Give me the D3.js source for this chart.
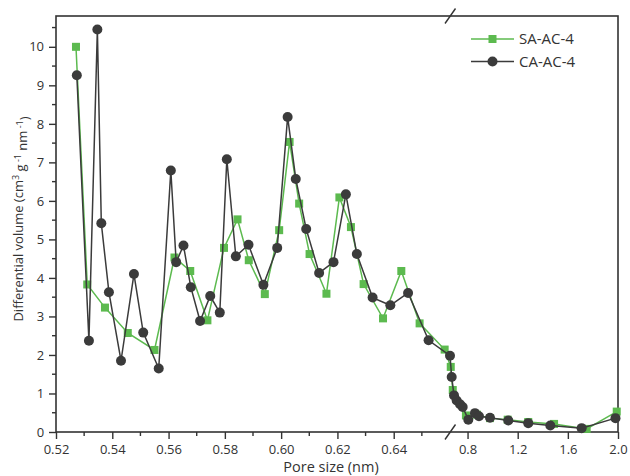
<!DOCTYPE html>
<html>
<head>
<meta charset="utf-8">
<script src="https://cdn.jsdelivr.net/npm/d3@7"></script>
<style>
body { margin: 0; background: #fff; }
text { font-family: "Open Sans", sans-serif; fill: #333; }
</style>
</head>
<body>
<svg id="chart"></svg>
<script>
// SA-AC-4 (green squares)
const saPore = [0.5271, 0.5311, 0.5374, 0.5455, 0.5550, 0.5621, 0.5677, 0.5738, 0.5797, 0.5845,
  0.5885, 0.5942, 0.5993, 0.6030, 0.6064, 0.6101, 0.6161, 0.6207, 0.6248, 0.6293,
  0.6362, 0.6427, 0.6492, 0.6581, 0.666, 0.682, 0.787, 0.875, 0.979, 1.12,
  1.284, 1.49, 1.75, 1.99]
const saVolume = [10.0, 3.83, 3.23, 2.57, 2.13, 4.53, 4.18, 2.90, 4.78, 5.52,
  4.46, 3.58, 5.24, 7.53, 5.93, 4.62, 3.59, 6.09, 5.32, 3.84,
  2.95, 4.18, 2.82, 2.14, 1.69, 1.09, 0.43, 0.45, 0.36, 0.32,
  0.26, 0.21, 0.08, 0.53]

// CA-AC-4 (dark circles)
const caPore = [0.5274, 0.5317, 0.5347, 0.5361, 0.5388, 0.5431, 0.5477, 0.5510, 0.5565, 0.5608,
  0.5627, 0.5653, 0.5679, 0.5712, 0.5748, 0.5782, 0.5807, 0.5839, 0.5884, 0.5937,
  0.5986, 0.6023, 0.6052, 0.6089, 0.6135, 0.6186, 0.6230, 0.6269, 0.6325, 0.6388,
  0.6451, 0.6524, 0.6600, 0.6735, 0.692, 0.713, 0.740, 0.761, 0.806, 0.859,
  0.891, 0.979, 1.125, 1.284, 1.46, 1.71, 1.98]
const caVolume = [9.26, 2.37, 10.45, 5.42, 3.63, 1.85, 4.10, 2.58, 1.65, 6.79,
  4.41, 4.84, 3.76, 2.88, 3.53, 3.10, 7.08, 4.56, 4.86, 3.82,
  4.78, 8.18, 6.57, 5.27, 4.13, 4.41, 6.17, 4.62, 3.49, 3.29,
  3.61, 2.38, 1.98, 1.43, 0.95, 0.82, 0.72, 0.65, 0.32, 0.49,
  0.41, 0.37, 0.30, 0.23, 0.17, 0.10, 0.36]

const xTicksLeft = [0.52, 0.54, 0.56, 0.58, 0.60, 0.62, 0.64]
const xMinorLeft = [0.53, 0.55, 0.57, 0.59, 0.61, 0.63, 0.65]
const xTicksRight = [0.8, 1.2, 1.6, 2.0]
const yTicks = [0, 1, 2, 3, 4, 5, 6, 7, 8, 9, 10]
const yMinor = [0.5, 1.5, 2.5, 3.5, 4.5, 5.5, 6.5, 7.5, 8.5, 9.5, 10.5]
const xBreak = 0.66

const W = 630, H = 476
const margin = {left: 56, top: 16, right: 12, bottom: 44}
const plotRight = W - margin.right
const plotBottom = H - margin.bottom
const breakPx = 450

const green = "#5cba4f"
const dark = "#3b3b3b"
const axisCol = "#333"

const svg = d3.select("#chart").attr("width", W).attr("height", H)

// broken axis: two linear pieces
const x = d3.scaleLinear().domain([0.52, xBreak, 2.0]).range([margin.left, breakPx, plotRight])
const y = d3.scaleLinear().domain([0, 10.8]).range([plotBottom, margin.top])

const fmt = v => v < 0.7 ? d3.format(".2f")(v) : d3.format(".1f")(v)

// x axis
const gx = svg.append("g").attr("transform", `translate(0,${plotBottom})`)
gx.call(d3.axisBottom(x).tickValues(xTicksLeft.concat(xTicksRight)).tickFormat(fmt).tickSize(7).tickSizeOuter(0))
gx.append("g").selectAll("line").data(xMinorLeft).join("line")
  .attr("x1", d => x(d)).attr("x2", d => x(d)).attr("y1", 0).attr("y2", 4)

// y axis
const gy = svg.append("g").attr("transform", `translate(${margin.left},0)`)
gy.call(d3.axisLeft(y).tickValues(yTicks).tickSize(7).tickSizeOuter(0))
gy.append("g").selectAll("line").data(yMinor).join("line")
  .attr("x1", -4).attr("x2", 0).attr("y1", d => y(d)).attr("y2", d => y(d))

svg.selectAll(".domain").remove()
svg.selectAll(".tick line, g line").attr("stroke", axisCol).attr("stroke-width", 1.4)
svg.selectAll(".tick text").style("font-size", "13px").attr("fill", axisCol)
gx.selectAll(".tick text").attr("dy", "0.95em")
gy.selectAll(".tick text").attr("dx", "-0.15em")

// frame
svg.append("rect")
  .attr("x", margin.left).attr("y", margin.top)
  .attr("width", plotRight - margin.left).attr("height", plotBottom - margin.top)
  .attr("fill", "none").attr("stroke", axisCol).attr("stroke-width", 1.6)

// break marks
;[plotBottom, margin.top].forEach(yy => {
  svg.append("line")
    .attr("x1", breakPx - 5).attr("y1", yy + 7.5)
    .attr("x2", breakPx + 5.5).attr("y2", yy - 7.5)
    .attr("stroke", axisCol).attr("stroke-width", 1.4)
})

const sa = saPore.map((p, i) => ({p: p, v: saVolume[i]}))
const ca = caPore.map((p, i) => ({p: p, v: caVolume[i]}))
const line = d3.line().x(d => x(d.p)).y(d => y(d.v))

svg.append("path").datum(sa).attr("d", line)
  .attr("fill", "none").attr("stroke", green).attr("stroke-width", 1.5)
svg.append("g").selectAll("rect").data(sa).join("rect")
  .attr("x", d => x(d.p) - 4).attr("y", d => y(d.v) - 4)
  .attr("width", 8).attr("height", 8).attr("fill", green)

svg.append("path").datum(ca).attr("d", line)
  .attr("fill", "none").attr("stroke", dark).attr("stroke-width", 1.5)
svg.append("g").selectAll("circle").data(ca).join("circle")
  .attr("cx", d => x(d.p)).attr("cy", d => y(d.v))
  .attr("r", 5).attr("fill", dark)

// legend
const legend = [{name: "SA-AC-4", color: green, shape: "square"}, {name: "CA-AC-4", color: dark, shape: "circle"}]
const lg = svg.append("g").selectAll("g").data(legend).join("g")
  .attr("transform", (d, i) => `translate(471,${39 + i * 22.5})`)
lg.append("line").attr("x1", 0).attr("x2", 43).attr("stroke", d => d.color).attr("stroke-width", 1.5)
lg.filter(d => d.shape === "square").append("rect")
  .attr("x", 17.5).attr("y", -4).attr("width", 8).attr("height", 8).attr("fill", d => d.color)
lg.filter(d => d.shape === "circle").append("circle")
  .attr("cx", 21.5).attr("r", 5).attr("fill", d => d.color)
lg.append("text").attr("x", 48).attr("dy", "0.36em")
  .style("font-size", "15px").text(d => d.name)

// axis titles
svg.append("text")
  .attr("x", 331).attr("y", 472)
  .attr("text-anchor", "middle").style("font-size", "14.5px")
  .text("Pore size (nm)")

const yt = svg.append("text")
  .attr("transform", "translate(23,219) rotate(-90)")
  .attr("text-anchor", "middle").style("font-size", "13px")
yt.append("tspan").text("Differential volume (cm")
yt.append("tspan").attr("dy", "-0.5em").style("font-size", "9px").text("3")
yt.append("tspan").attr("dy", "0.5em").text(" g")
yt.append("tspan").attr("dy", "-0.5em").style("font-size", "9px").text(" -1")
yt.append("tspan").attr("dy", "0.5em").text(" nm")
yt.append("tspan").attr("dy", "-0.5em").style("font-size", "9px").text(" -1")
yt.append("tspan").attr("dy", "0.5em").text(")")
</script>
</body>
</html>
